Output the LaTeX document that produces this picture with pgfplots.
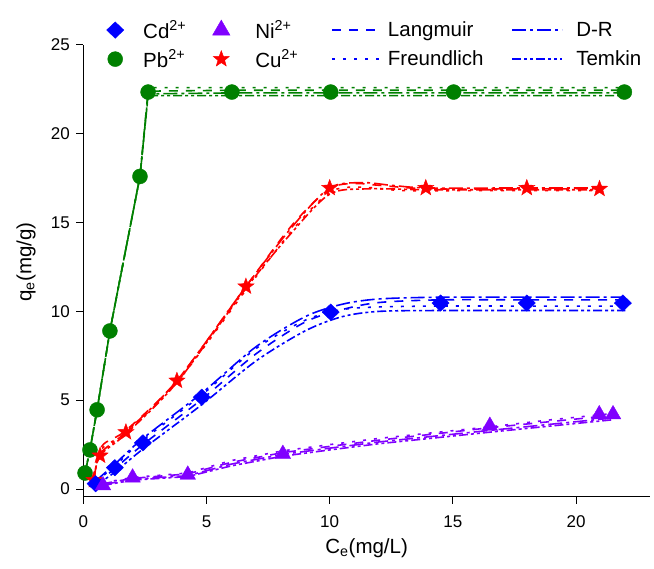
\documentclass[border=0pt]{standalone}
\usepackage{pgfplots}
\pgfplotsset{compat=1.18}
\usepackage{fontspec}
\setmainfont{Liberation Sans}
\definecolor{cdb}{RGB}{0,0,255}
\definecolor{pbg}{RGB}{0,128,0}
\definecolor{cur}{RGB}{255,0,0}
\definecolor{nip}{RGB}{128,0,255}
\pgfdeclareplotmark{fstar}{%
  \pgfpathmoveto{\pgfpointpolar{90}{\pgfplotmarksize}}%
  \pgfpathlineto{\pgfpointpolar{126}{0.42\pgfplotmarksize}}%
  \pgfpathlineto{\pgfpointpolar{162}{\pgfplotmarksize}}%
  \pgfpathlineto{\pgfpointpolar{198}{0.42\pgfplotmarksize}}%
  \pgfpathlineto{\pgfpointpolar{234}{\pgfplotmarksize}}%
  \pgfpathlineto{\pgfpointpolar{270}{0.42\pgfplotmarksize}}%
  \pgfpathlineto{\pgfpointpolar{306}{\pgfplotmarksize}}%
  \pgfpathlineto{\pgfpointpolar{342}{0.42\pgfplotmarksize}}%
  \pgfpathlineto{\pgfpointpolar{18}{\pgfplotmarksize}}%
  \pgfpathlineto{\pgfpointpolar{54}{0.42\pgfplotmarksize}}%
  \pgfpathclose\pgfusepathqfillstroke}
\tikzset{
 lang/.style={dash pattern=on 9pt off 8pt},
 freu/.style={dash pattern=on 3pt off 8pt},
 dr/.style={dash pattern=on 14pt off 4pt on 3pt off 4pt},
 tem/.style={dash pattern=on 9pt off 3pt on 3pt off 3pt on 3pt off 3pt},
}
\pgfplotsset{
 mlegend/.style={legend image code/.code={\path[draw=none,fill=none] (0pt,-8pt) rectangle (18pt,8pt); \draw[##1] plot coordinates {(9pt,0pt)};}},
 llegend/.style={legend image code/.code={\path[draw=none,fill=none] (0pt,-8pt) rectangle (50pt,8pt); \draw[##1] (0pt,0pt) -- (50pt,0pt);}},
}
\begin{document}
\begin{tikzpicture}
\begin{axis}[
 scale only axis, width=566.7pt, height=452pt,
 xmin=0, xmax=23, ymin=-0.45, ymax=25,
 axis x line*=bottom, axis y line*=left,
 axis line style={line width=1pt},
 tick align=outside, tick style={line width=1pt, black},
 major tick length=7pt,
 xtick={0,5,10,15,20}, ytick={0,5,10,15,20,25},
 minor tick num=0,
 /pgf/number format/assume math mode=true,
 ticklabel style={font=\fontsize{17}{20}\selectfont},
 xticklabel style={yshift=-8pt},
 yticklabel style={xshift=-3pt},
 xlabel={C\textsubscript{e}(mg/L)}, ylabel={q\textsubscript{e}(mg/g)},
 label style={font=\fontsize{20.5}{24}\selectfont},
 xlabel style={at={(axis description cs:0.5,-0.113)}, anchor=center},
 ylabel style={at={(axis description cs:-0.101,0.52)}, anchor=center},
 legend columns=4,
 legend style={at={(0.0348,1.06)}, anchor=north west, draw=none, fill=none,
   font=\fontsize{20.5}{24}\selectfont, row sep=10pt,
   nodes={inner sep=0pt},
   /tikz/column 1/.style={column sep=19pt},
   /tikz/column 2/.style={column sep=26pt},
   /tikz/column 3/.style={column sep=25pt},
   /tikz/column 4/.style={column sep=33pt},
   /tikz/column 5/.style={column sep=5pt},
   /tikz/column 6/.style={column sep=28pt},
   /tikz/column 7/.style={column sep=13pt}},
 legend cell align=left,
 every axis plot/.append style={line width=1.6pt},
]
\addlegendimage{mlegend, only marks, mark=diamond*, mark size=8.2pt, color=cdb, mark options={xscale=1.4, line width=0.4pt}}
\addlegendentry{Cd\textsuperscript{2+}}
\addlegendimage{mlegend, only marks, mark=triangle*, mark size=10pt, color=nip, mark options={line width=0.4pt}}
\addlegendentry{Ni\textsuperscript{2+}}
\addlegendimage{llegend, cdb, lang}
\addlegendentry{Langmuir}
\addlegendimage{llegend, cdb, dr}
\addlegendentry{D-R}
\addlegendimage{mlegend, only marks, mark=*, mark size=7.5pt, color=pbg, mark options={line width=0.4pt}}
\addlegendentry{Pb\textsuperscript{2+}}
\addlegendimage{mlegend, only marks, mark=fstar, mark size=8.5pt, color=cur, mark options={fill=cur, line width=0.4pt}}
\addlegendentry{Cu\textsuperscript{2+}}
\addlegendimage{llegend, cdb, freu}
\addlegendentry{Freundlich}
\addlegendimage{llegend, cdb, tem}
\addlegendentry{Temkin}

% ---- Pb fits
\addplot[pbg, lang, forget plot] coordinates {(0.07,0.9)(0.27,2.2)(0.56,4.46)(1.08,8.9)(2.3,17.6)(2.63,22.4)(6,22.45)(10,22.45)(15,22.45)(22,22.45)};
\addplot[pbg, freu, forget plot] coordinates {(0.07,0.9)(0.27,2.2)(0.56,4.46)(1.08,8.9)(2.3,17.6)(2.65,22.6)(6,22.6)(10,22.6)(15,22.6)(22,22.6)};
\addplot[pbg, dr, forget plot] coordinates {(0.07,0.9)(0.27,2.2)(0.56,4.46)(1.08,8.9)(2.3,17.6)(2.63,22.25)(6,22.3)(10,22.3)(15,22.3)(22,22.3)};
\addplot[pbg, tem, forget plot] coordinates {(0.07,0.9)(0.27,2.2)(0.56,4.46)(1.08,8.9)(2.3,17.6)(2.63,22.15)(6,22.15)(10,22.15)(15,22.15)(22,22.15)};
% ---- Cu fits
\addplot[cur, lang, smooth, forget plot] coordinates {(0.43,0.5)(0.75,2.4)(1.73,3.3)(3.8,6.1)(6.6,11.4)(8.5,14.9)(10,16.9)(11,17.2)(12,17.1)(14,16.9)(18,16.9)(21,16.9)};
\addplot[cur, freu, smooth, forget plot] coordinates {(0.43,0.5)(0.72,2.2)(1.73,3.2)(3.8,6.0)(6.6,11.2)(8.5,14.6)(10,16.7)(11.2,17.0)(13,16.8)(16,16.8)(21,16.8)};
\addplot[cur, dr, smooth, forget plot] coordinates {(0.43,0.5)(0.7,2.0)(1.73,3.2)(3.8,6.1)(6.6,11.4)(8.5,14.8)(10,16.95)(11.3,17.25)(12.5,17.1)(14,16.95)(18,16.95)(21,16.95)};
\addplot[cur, tem, smooth, forget plot] coordinates {(0.43,0.5)(0.68,1.88)(1.73,3.1)(3.8,6.0)(6.6,11.3)(8.5,14.5)(10,16.6)(11.5,16.9)(14,16.85)(18,16.85)(21,16.85)};
% ---- Cd fits
\addplot[cdb, lang, smooth, forget plot] coordinates {(0.5,0.3)(1.28,1.15)(2.42,2.5)(4.81,5.05)(7,7.6)(9,9.4)(10.5,10.1)(12,10.5)(14.5,10.65)(18,10.65)(22,10.65)};
\addplot[cdb, freu, smooth, forget plot] coordinates {(0.5,0.4)(1.28,1.3)(2.42,2.75)(4.81,5.3)(7,7.9)(9,9.5)(10.5,10.1)(12,10.25)(14.5,10.3)(18,10.3)(22,10.3)};
\addplot[cdb, dr, smooth, forget plot] coordinates {(0.5,0.45)(1.28,1.4)(2.42,2.85)(4.81,5.4)(7,8.0)(9,9.7)(10.5,10.4)(12,10.7)(14.5,10.8)(18,10.8)(22,10.8)};
\addplot[cdb, tem, smooth, forget plot] coordinates {(0.5,0.2)(1.28,0.95)(2.42,2.25)(4.81,4.75)(7,7.2)(9,8.9)(10.5,9.7)(12,10.0)(14.5,10.05)(18,10.05)(22,10.05)};
% ---- Ni fits
\addplot[nip, lang, forget plot] coordinates {(0.8,0.3)(2.0,0.6)(4.24,0.85)(6,1.5)(8.1,2.05)(10,2.4)(12,2.75)(16.5,3.45)(19,3.8)(21.5,4.15)};
\addplot[nip, freu, forget plot] coordinates {(0.8,0.35)(2.0,0.65)(4.24,0.9)(6,1.6)(8.1,2.15)(10,2.5)(12,2.85)(16.5,3.5)(19,3.9)(21.5,4.25)};
\addplot[nip, dr, forget plot] coordinates {(0.8,0.25)(2.0,0.55)(4.24,0.75)(6,1.4)(8.1,1.95)(10,2.3)(12,2.65)(16.5,3.3)(19,3.65)(21.5,4.0)};
\addplot[nip, tem, forget plot] coordinates {(0.8,0.2)(2.0,0.5)(4.24,0.7)(6,1.3)(8.1,1.85)(10,2.2)(12,2.55)(16.5,3.2)(19,3.55)(21.5,3.9)};
% ---- data points
\addplot[only marks, mark=*, mark size=7.5pt, color=pbg, mark options={line width=0.4pt}, forget plot] coordinates {(0.07,0.9)(0.27,2.2)(0.56,4.46)(1.08,8.9)(2.3,17.6)(2.63,22.35)(6.03,22.35)(10.04,22.35)(15.03,22.35)(21.96,22.35)};
\addplot[only marks, mark=fstar, mark size=8.5pt, color=cur, mark options={fill=cur, line width=0.4pt}, forget plot] coordinates {(0.43,0.5)(0.68,1.88)(1.73,3.2)(3.8,6.1)(6.6,11.4)(10,16.95)(13.9,16.95)(18,16.95)(20.95,16.9)};
\addplot[only marks, mark=diamond*, mark size=8.2pt, color=cdb, mark options={xscale=1.4, line width=0.4pt}, forget plot] coordinates {(0.5,0.3)(1.28,1.2)(2.42,2.6)(4.81,5.17)(10.04,9.96)(14.5,10.47)(18,10.47)(21.9,10.47)};
\addplot[only marks, mark=triangle*, mark size=9pt, color=nip, mark options={line width=0.4pt}, forget plot] coordinates {(0.8,0.2)(2.0,0.64)(4.24,0.8)(8.1,1.97)(16.5,3.55)(20.94,4.2)(21.5,4.2)};
\end{axis}
\pgfresetboundingbox
\path[use as bounding box] ([shift={(-83.3pt,-72pt)}]current axis.south west) rectangle ([shift={(4pt,45pt)}]current axis.north east);
\end{tikzpicture}
\end{document}
